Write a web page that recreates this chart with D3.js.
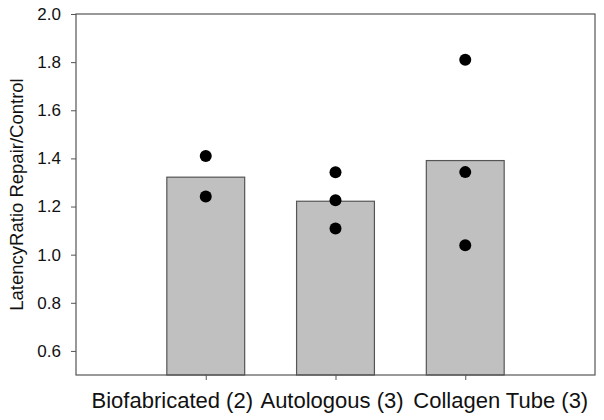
<!DOCTYPE html>
<html>
<head>
<meta charset="utf-8">
<script src="https://cdn.jsdelivr.net/npm/d3@7"></script>
<style>
  body { margin: 0; background: #fff; }
  text { font-family: "Liberation Sans", Arial, sans-serif; }
</style>
</head>
<body>
<div id="chart"></div>
<script>
// data
var groups = ["Biofabricated (2)", "Autologous (3)", "Collagen Tube (3)"];
var barMeans = [1.322, 1.222, 1.391];
var pointGroup = [0, 0, 1, 1, 1, 2, 2, 2];
var pointValues = [1.41, 1.242, 1.342, 1.226, 1.109, 1.81, 1.343, 1.039];
var yTicks = [0.6, 0.8, 1.0, 1.2, 1.4, 1.6, 1.8, 2.0];

var width = 604;
var height = 420;
var plotLeft = 76, plotRight = 595, plotTop = 14, plotBottom = 375;

var svg = d3.select("#chart")
  .append("svg")
  .attr("width", width)
  .attr("height", height);

var xScale = d3.scaleLinear().domain([0, 4]).range([plotLeft, plotRight]);
var yScale = d3.scaleLinear().domain([0.5, 2.0]).range([plotBottom, plotTop]);
var slot = xScale(1) - xScale(0);
var barWidth = slot * 0.6;

// bars
svg.selectAll("rect.bar")
  .data(barMeans)
  .enter()
  .append("rect")
  .attr("class", "bar")
  .attr("x", function(d, i) { return xScale(i + 1) - barWidth / 2; })
  .attr("y", function(d) { return yScale(d); })
  .attr("width", barWidth)
  .attr("height", function(d) { return yScale(0.5) - yScale(d); })
  .attr("fill", "#c0c0c0")
  .attr("stroke", "#555")
  .attr("stroke-width", 1.2);

// frame
svg.append("rect")
  .attr("x", plotLeft)
  .attr("y", plotTop)
  .attr("width", plotRight - plotLeft)
  .attr("height", plotBottom - plotTop)
  .attr("fill", "none")
  .attr("stroke", "#555")
  .attr("stroke-width", 1.2);

// y axis
var yAxis = d3.axisLeft(yScale)
  .tickValues(yTicks)
  .tickFormat(d3.format(".1f"))
  .tickSize(5)
  .tickPadding(10);

var yG = svg.append("g")
  .attr("class", "yAxis")
  .attr("transform", "translate(" + plotLeft + ",0)")
  .call(yAxis);
yG.select(".domain").remove();
yG.selectAll("line").attr("stroke", "#555");
yG.selectAll("text")
  .attr("font-size", 17)
  .attr("fill", "#111")
  .style("font-family", "'Liberation Sans', Arial, sans-serif");

// x axis
var xAxis = d3.axisBottom(xScale)
  .tickValues([1, 2, 3])
  .tickFormat(function(d) { return groups[d - 1]; })
  .tickSize(5)
  .tickPadding(12);

var xG = svg.append("g")
  .attr("class", "xAxis")
  .attr("transform", "translate(0," + plotBottom + ")")
  .call(xAxis);
xG.select(".domain").remove();
xG.selectAll("line").attr("stroke", "#555");
// labels sit a bit spread out from their ticks in the original
var labelShift = [-34, -4, 35];
xG.selectAll("text")
  .attr("font-size", 22)
  .attr("fill", "#111")
  .attr("dx", function(d) { return labelShift[d - 1]; })
  .style("font-family", "'Liberation Sans', Arial, sans-serif");

// points
svg.selectAll("circle.pt")
  .data(pointValues)
  .enter()
  .append("circle")
  .attr("class", "pt")
  .attr("cx", function(d, i) { return xScale(pointGroup[i] + 1); })
  .attr("cy", function(d) { return yScale(d); })
  .attr("r", 6)
  .attr("fill", "#000");

// y label
svg.append("text")
  .attr("transform", "translate(23," + ((plotTop + plotBottom) / 2) + ")rotate(-90)")
  .attr("text-anchor", "middle")
  .attr("font-size", 18.5)
  .attr("fill", "#111")
  .text("LatencyRatio Repair/Control");
</script>
</body>
</html>
